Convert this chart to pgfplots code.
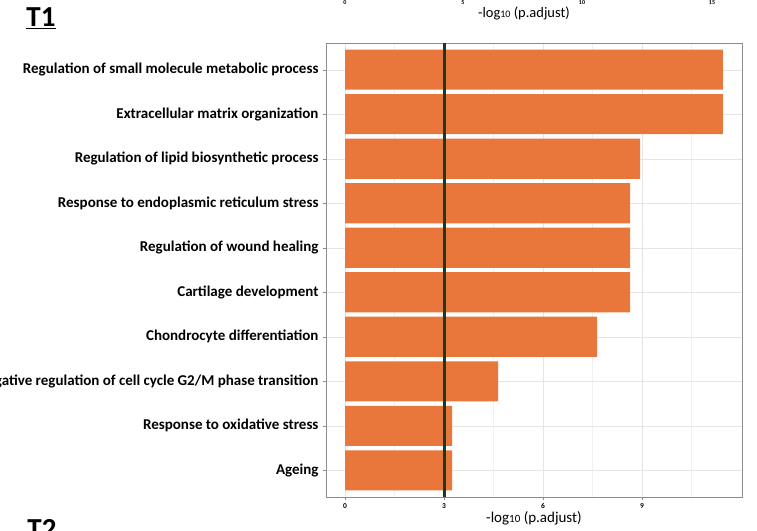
\documentclass[border=0pt]{standalone}
\usepackage{fontspec}
\setmainfont{Carlito}
\usepackage{pgfplots}
\pgfplotsset{compat=1.18}
\definecolor{barorange}{RGB}{233,118,58}
\definecolor{darkline}{RGB}{28,58,30}
\begin{document}
\begin{tikzpicture}[x=1pt,y=1pt]
\useasboundingbox (0,0) rectangle (757,530);
\clip (0,0) rectangle (757,530);
% remnants of the panel above
\node[font=\bfseries\fontsize{6}{6}\selectfont] at (345,527) {0};
\node[font=\bfseries\fontsize{6}{6}\selectfont] at (463,527) {5};
\node[font=\bfseries\fontsize{6}{6}\selectfont] at (582,527) {10};
\node[font=\bfseries\fontsize{6}{6}\selectfont] at (712,527) {15};
\node[font=\fontsize{14.5}{14.5}\selectfont] at (524,517) {-log{\fontsize{10}{10}\selectfont 10} (p.adjust)};
\node[font=\bfseries\fontsize{29}{29}\selectfont, anchor=base] at (41,503) {\underline{T1}};
\node[font=\bfseries\fontsize{29}{29}\selectfont, anchor=base] at (42,-8) {T2};
\begin{axis}[
  at={(326pt,33pt)}, anchor=south west,
  width=416pt, height=454pt, scale only axis,
  xmin=-0.58, xmax=12.03, ymin=0.4, ymax=10.6,
  y dir=reverse,
  xbar, bar width=0.9,
  ytick={1,...,10},
  yticklabels={Regulation of small molecule metabolic process,
    Extracellular matrix organization,
    Regulation of lipid biosynthetic process,
    Response to endoplasmic reticulum stress,
    Regulation of wound healing,
    Cartilage development,
    Chondrocyte differentiation,
    Negative regulation of cell cycle G2/M phase transition,
    Response to oxidative stress,
    Ageing},
  xtick={0,3,6,9}, minor xtick={1.5,4.5,7.5,10.5},
  xtick pos=lower, ytick pos=left,
  grid=both, major grid style={black!10}, minor grid style={black!6},
  axis line style={black!45},
  tick style={black!45}, tick align=outside, major tick length=3pt, minor tick length=0pt,
  /pgf/number format/assume math mode=true,
  yticklabel style={font=\bfseries\fontsize{15}{15}\selectfont, xshift=-1pt},
  xticklabel style={font=\bfseries\fontsize{7.5}{7.5}\selectfont},
  xlabel={-log{\fontsize{11}{11}\selectfont 10} (p.adjust)},
  xlabel style={at={(axis description cs:0.5,-0.048)}, anchor=center, font=\fontsize{15}{15}\selectfont},
]
\addplot[fill=barorange, draw=none] coordinates {
  (11.45,1) (11.45,2) (8.94,3) (8.64,4) (8.64,5)
  (8.64,6) (7.64,7) (4.64,8) (3.24,9) (3.24,10)};
\draw[darkline, line width=2.8pt] (axis cs:3,0.4) -- (axis cs:3,10.6);
\end{axis}
\end{tikzpicture}
\end{document}
